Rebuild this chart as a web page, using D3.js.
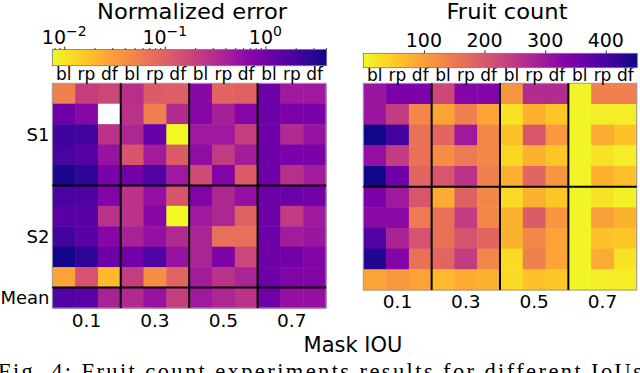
<!DOCTYPE html>
<html><head><meta charset="utf-8">
<script src="https://cdn.jsdelivr.net/npm/d3@7"></script>
<style>html,body{margin:0;padding:0;background:#fff}svg{display:block}</style>
</head><body>
<script>
const ious = ["0.1","0.3","0.5","0.7"];
const methods = ["bl","rp","df"];
const leftRowLabels = ["S1","S2","Mean"];
// Normalized error, S1 (5 runs), S2 (5 runs), mean; null = missing
const errS1 = [
 [0.053,0.212,0.176, 0.291,0.113,0.106, 0.701,0.094,0.100, 1.09,0.481,0.481],
 [1.09,0.746,null,   0.273,0.053,0.330, 0.746,0.424,0.746, 1.09,0.90,0.90],
 [2.31,2.17,0.273,   0.351,1.23,0.0076, 0.481,0.481,0.212, 1.09,0.330,0.545],
 [1.91,1.59,0.545,   0.128,0.451,0.113, 0.618,0.226,0.451, 1.09,0.90,0.90],
 [3.59,2.79,0.90,    1.02,1.69,0.481,   0.165,0.795,0.113, 1.09,0.291,0.451]
];
const errS2 = [
 [1.91,1.80,0.795,   0.273,0.581,0.128, 0.795,0.351,0.581, 1.09,1.16,1.02],
 [1.49,1.49,0.273,   0.273,0.746,0.0076, 0.481,0.351,0.100, 1.09,0.226,0.481],
 [2.17,1.49,0.746,   0.398,0.581,0.330, 0.374,0.073,0.073, 1.09,0.451,0.512],
 [3.83,2.79,1.09,    1.02,1.69,0.545,   0.374,0.846,0.176, 1.09,1.02,0.795],
 [0.028,0.137,0.0195,0.212,0.041,0.094, 0.451,0.273,0.374, 1.09,0.795,0.795]
];
const errMean = [1.69,1.49,0.398, 0.330,0.545,0.212, 0.481,0.351,0.273, 1.09,0.581,0.581];
// Fruit count
const countS1 = [
 [302,342,342, 225,333,333, 113,270,270, 5,140,140],
 [302,243,131, 95,140,95,   23,77,54,    5,14,14],
 [450,405,162, 180,297,131, 59,203,108,  5,86,59],
 [311,243,162, 122,149,131, 36,77,54,    5,23,14],
 [450,356,180, 203,257,140, 81,180,113,  5,77,59]
];
const countS2 = [
 [342,297,203, 86,185,131,  32,77,54,    5,23,9],
 [324,324,149, 162,243,131, 77,194,113,  5,99,77],
 [387,284,207, 162,207,180, 77,131,95,   5,59,54],
 [437,333,162, 180,243,131, 32,140,95,   5,86,23],
 [95,108,95,   68,86,77,    32,59,54,    5,14,14]
];
const errTicks = [0.01,0.1,1];
const errTickExp = ["\u22122","\u22121","0"];
const countTicks = [100,200,300,400];
const errDomain = [0.0076, 4.07];
const countDomain = [0, 452];
const xTitle = "Mask IOU";
const caption = "Fig. 4: Fruit count experiments results for different IoUs";

const W = 640, H = 373;
const svg = d3.select("body").append("svg").attr("width",W).attr("height",H)
  .style("font-family","'DejaVu Sans', sans-serif");

const cols = [];
ious.forEach(i => methods.forEach(m => cols.push(i+"|"+m)));
const cmap = t => d3.interpolatePlasma(1 - t);
const errColor = d3.scaleSequentialLog(cmap).domain(errDomain);
const countColor = d3.scaleSequential(cmap).domain(countDomain);

function heatmap(cfg){
  const {x0,x1,y0,y1,rows,color,rowGroups} = cfg;
  const x = d3.scaleBand().domain(cols).range([x0,x1]);
  const y = d3.scaleBand().domain(d3.range(rows.length)).range([y0,y1]);
  const g = svg.append("g");
  rows.forEach((r,ri) => r.forEach((v,ci) => {
    g.append("rect").attr("x",x(cols[ci])).attr("y",y(ri))
      .attr("width",x.bandwidth()+0.5).attr("height",y.bandwidth()+0.5)
      .attr("fill", v==null ? "#ffffff" : color(v));
  }));
  g.append("rect").attr("x",x0).attr("y",y0).attr("width",x1-x0).attr("height",y1-y0)
    .attr("fill","none").attr("stroke","#9a9a9a").attr("stroke-width",1);
  [3,6,9].forEach(c => g.append("line").attr("x1",x(cols[c])).attr("x2",x(cols[c]))
    .attr("y1",y0).attr("y2",y1).attr("stroke","#000").attr("stroke-width",2));
  rowGroups.forEach(rg => g.append("line").attr("x1",x0).attr("x2",x1)
    .attr("y1",y(rg)).attr("y2",y(rg)).attr("stroke","#000").attr("stroke-width",2));
  cols.forEach(c => g.append("text").attr("x",x(c)+x.bandwidth()/2).attr("y",cfg.labY)
    .attr("text-anchor","middle").attr("font-size",17).text(c.split("|")[1]));
  ious.forEach((iou,k) => {
    const a = x(cols[k*3]), b = x(cols[k*3+2]) + x.bandwidth();
    g.append("text").attr("x",(a+b)/2).attr("y",cfg.iouY).attr("text-anchor","middle")
      .attr("font-size",18.5).text(iou);
  });
  return {x,y};
}

const L = heatmap({x0:52.3,x1:326,y0:83.3,y1:308,rows:[...errS1,...errS2,errMean],
  color:errColor,rowGroups:[5,10],labY:80,iouY:327});
const R = heatmap({x0:363.3,x1:636.7,y0:83.3,y1:290,rows:[...countS1,...countS2],
  color:countColor,rowGroups:[5],labY:81,iouY:307.5});

[[2,"S1"],[7,"S2"],[10,"Mean"]].forEach(([ri,t]) => svg.append("text")
  .attr("x",49.5).attr("y",L.y(ri)+L.y.bandwidth()/2).attr("dy","0.36em")
  .attr("text-anchor","end").attr("font-size",18).text(t));

function colorbar(id,x0,x1,y0,y1,color,scale){
  const grad = svg.append("defs").append("linearGradient").attr("id",id);
  d3.range(0,1.0001,0.02).forEach(t => grad.append("stop").attr("offset",t)
    .attr("stop-color", color(scale.invert(x0 + t*(x1-x0)))));
  svg.append("rect").attr("x",x0).attr("y",y0).attr("width",x1-x0).attr("height",y1-y0)
    .attr("fill",`url(#${id})`).attr("stroke","#777").attr("stroke-width",0.8);
}
const errX = d3.scaleLog().domain(errDomain).range([52.3,326.7]);
colorbar("gErr",52.3,326.7,49.5,65.7,errColor,errX);
const countX = d3.scaleLinear().domain(countDomain).range([363.3,637.3]);
colorbar("gCnt",363.3,637.3,53.3,67.7,countColor,countX);

const minor = [];
[0.001,0.01,0.1,1].forEach(d => d3.range(2,10).forEach(k => {
  const v = d*k; if (v>=errDomain[0] && v<=errDomain[1]) minor.push(v); }));
const ag = svg.append("g").attr("transform","translate(0,49.5)");
ag.call(d3.axisTop(errX).tickValues(errTicks).tickSize(3).tickFormat(""))
  .call(g=>g.select(".domain").remove());
ag.append("g").call(d3.axisTop(errX).tickValues(minor).tickSize(1.5).tickFormat(""))
  .call(g=>g.select(".domain").remove());
errTicks.forEach((v,i) => {
  const t = svg.append("text").attr("x",errX(v)).attr("y",43.5).attr("text-anchor","middle")
    .attr("font-size",19);
  t.append("tspan").text("10");
  t.append("tspan").attr("font-size",14).attr("dy",-7.5).text(errTickExp[i]);
});
const cg = svg.append("g").attr("transform","translate(0,53.3)");
cg.call(d3.axisTop(countX).tickValues(countTicks).tickSize(3).tickFormat(""))
  .call(g=>g.select(".domain").remove());
countTicks.forEach(v => svg.append("text").attr("x",countX(v)).attr("y",47)
  .attr("text-anchor","middle").attr("font-size",19).text(v));
svg.selectAll(".tick line").attr("stroke","#333");

svg.append("text").attr("x",192).attr("y",19).attr("text-anchor","middle")
  .attr("font-size",20.5).attr("textLength",190).attr("lengthAdjust","spacingAndGlyphs")
  .text("Normalized error");
svg.append("text").attr("x",507).attr("y",19).attr("text-anchor","middle")
  .attr("font-size",20.5).attr("textLength",121).attr("lengthAdjust","spacingAndGlyphs")
  .text("Fruit count");
svg.append("text").attr("x",353).attr("y",352).attr("text-anchor","middle")
  .attr("font-size",21).text(xTitle);
svg.append("text").attr("x",-2).attr("y",379).attr("font-family","'Liberation Serif', serif")
  .attr("font-size",22.5).attr("textLength",644).attr("lengthAdjust","spacing").text(caption);
</script>
</body></html>
